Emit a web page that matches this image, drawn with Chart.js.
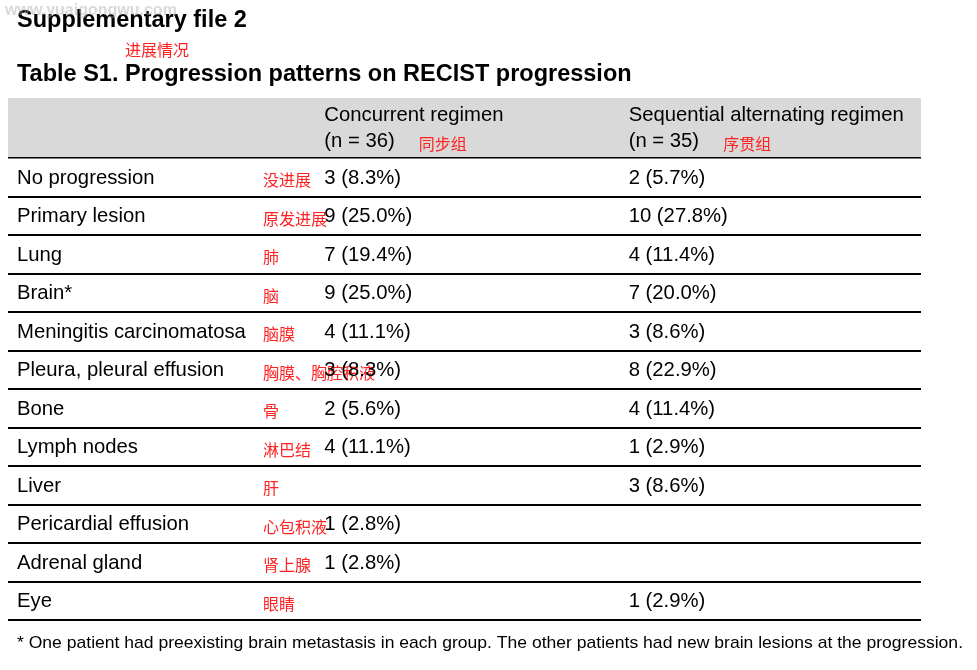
<!DOCTYPE html>
<html>
<head>
<meta charset="utf-8">
<title>Table S1. Progression patterns on RECIST progression</title>
<script src="https://cdn.jsdelivr.net/npm/chart.js@4.4.1/dist/chart.umd.min.js"></script>
<style>
  html, body { margin: 0; padding: 0; background: #fff; }
  #table { display: block; }
</style>
</head>
<body>
<canvas id="table" width="977" height="670"></canvas>
<script>
// Table content
const columns = ['', 'Concurrent regimen', 'Sequential alternating regimen'];
const groupSizes = [null, 36, 35];
const groupNotes = ['', '同步组', '序贯组'];

const rowLabels = ['No progression', 'Primary lesion', 'Lung', 'Brain*', 'Meningitis carcinomatosa',
    'Pleura, pleural effusion', 'Bone', 'Lymph nodes', 'Liver', 'Pericardial effusion', 'Adrenal gland', 'Eye'];
const rowNotes = ['没进展', '原发进展', '肺', '脑', '脑膜', '胸膜、胸腔积液', '骨', '淋巴结', '肝', '心包积液', '肾上腺', '眼睛'];

const concurrentN = [3, 9, 7, 9, 4, 3, 2, 4, null, 1, 1, null];
const concurrentPct = [8.3, 25.0, 19.4, 25.0, 11.1, 8.3, 5.6, 11.1, null, 2.8, 2.8, null];
const sequentialN = [2, 10, 4, 7, 3, 8, 4, 1, 3, null, null, 1];
const sequentialPct = [5.7, 27.8, 11.4, 20.0, 8.6, 22.9, 11.4, 2.9, 8.6, null, null, 2.9];

const pageTitle = 'Supplementary file 2';
const titleNote = '进展情况';
const tableTitle = 'Table S1. Progression patterns on RECIST progression';
const footnote = '* One patient had preexisting brain metastasis in each group. The other patients had new brain lesions at the progression.';
const watermark = 'www.yuaigongwu.com';

// Look
const FONT = '"Liberation Sans", Arial, sans-serif';
const CJK = '"Noto Sans CJK SC", sans-serif';
const RED = '#f22';
const HEADER_H = 60;
const PAD = 12;

const cellText = (n, pct) => `${n} (${pct.toFixed(1)}%)`;

const makeCells = (col, counts, pcts) => rowLabels
    .map((row, i) => counts[i] == null ? null : { x: col, y: row, text: cellText(counts[i], pcts[i]) })
    .filter(Boolean);

const colLeft = (x, c) => x.getPixelForValue(c) - x.width / columns.length / 2;

const tablePlugin = {
    id: 'tableText',
    beforeDraw(chart) {
        const { ctx, chartArea: a } = chart;
        ctx.save();
        ctx.fillStyle = '#d9d9d9';
        ctx.fillRect(a.left, a.top - HEADER_H, a.right - a.left, HEADER_H);
        ctx.restore();
    },
    afterDatasetsDraw(chart) {
        const { ctx, chartArea: a, scales: { x, y } } = chart;
        ctx.save();
        ctx.fillStyle = '#000';
        ctx.textBaseline = 'alphabetic';

        // Titles
        ctx.font = `bold 23.5px ${FONT}`;
        ctx.fillText(pageTitle, 17, 27);
        ctx.fillText(tableTitle, 17, 81);
        ctx.fillStyle = RED;
        ctx.font = `16px ${CJK}`;
        ctx.fillText(titleNote, 125, 56);

        // Header
        for (let c = 1; c < columns.length; c++) {
            const left = colLeft(x, c) + PAD;
            ctx.fillStyle = '#000';
            ctx.font = `20.3px ${FONT}`;
            ctx.fillText(columns[c], left, a.top - 37);
            const sub = `(n = ${groupSizes[c]})`;
            ctx.fillText(sub, left, a.top - 11);
            const w = ctx.measureText(sub).width;
            ctx.fillStyle = RED;
            ctx.font = `16px ${CJK}`;
            ctx.fillText(groupNotes[c], left + w + 24, a.top - 8);
        }

        // Row labels + notes
        ctx.textBaseline = 'middle';
        const labelLeft = colLeft(x, 0);
        rowLabels.forEach((label, i) => {
            const py = y.getPixelForValue(i);
            ctx.fillStyle = '#000';
            ctx.font = `20.3px ${FONT}`;
            ctx.fillText(label, labelLeft + PAD - 3, py + 1);
            ctx.fillStyle = RED;
            ctx.font = `16px ${CJK}`;
            ctx.fillText(rowNotes[i], labelLeft + 255, py + 3);
        });

        // Cells
        ctx.fillStyle = '#000';
        ctx.font = `20.3px ${FONT}`;
        const colW = x.width / columns.length;
        chart.data.datasets.forEach((ds, d) => {
            chart.getDatasetMeta(d).data.forEach((el, j) => {
                ctx.fillText(ds.data[j].text, el.x - colW / 2 + PAD, el.y + 1);
            });
        });

        // Footnote, squeezed to the table width like the source
        ctx.textBaseline = 'alphabetic';
        ctx.font = `17px ${FONT}`;
        const fw = ctx.measureText(footnote).width;
        ctx.translate(17, 648);
        ctx.scale(946 / fw, 1);
        ctx.fillText(footnote, 0, 0);
        ctx.setTransform(1, 0, 0, 1, 0, 0);

        // Watermark
        ctx.fillStyle = 'rgba(170,170,170,0.45)';
        ctx.font = `bold 16px ${FONT}`;
        ctx.fillText(watermark, 5, 15);
        ctx.restore();
    }
};

window.addEventListener('DOMContentLoaded', () => {
    new Chart(document.getElementById('table'), {
        type: 'scatter',
        data: {
            datasets: [
                { label: columns[1], data: makeCells(columns[1], concurrentN, concurrentPct), pointRadius: 0, pointHoverRadius: 0 },
                { label: columns[2], data: makeCells(columns[2], sequentialN, sequentialPct), pointRadius: 0, pointHoverRadius: 0 }
            ]
        },
        options: {
            responsive: false,
            animation: false,
            events: [],
            layout: { padding: { top: 158, bottom: 50, left: 8, right: 56 } },
            plugins: { legend: { display: false }, tooltip: { enabled: false } },
            scales: {
                x: { type: 'category', labels: columns, offset: true, display: false },
                y: {
                    type: 'category',
                    labels: rowLabels,
                    offset: true,
                    ticks: { display: false },
                    border: { display: false },
                    grid: {
                        offset: true,
                        drawTicks: false,
                        color: '#000',
                        lineWidth: (c) => c.index === 0 ? 1.5 : 2
                    }
                }
            }
        },
        plugins: [tablePlugin]
    });
});
</script>
</body>
</html>
